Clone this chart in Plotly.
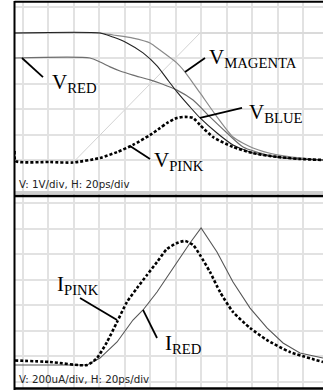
import plotly.graph_objects as go

# ---- time base (ps) ----
# top panel: voltages (V), 1 V/div, 20 ps/div
t_magenta = [-6.3, 60.5, 70.7, 86.4, 99.8, 107.6, 121.0, 127.3, 139.1, 152.4, 165.0, 180.7, 199.6, 217.6, 235.7]
v_magenta = [5.0, 5.0, 4.92, 4.80, 4.61, 4.33, 3.82, 3.47, 2.65, 1.71, 0.92, 0.49, 0.22, 0.10, 0.02]

t_blue = [-6.3, 60.5, 70.7, 81.7, 94.3, 105.3, 113.1, 121.0, 131.2, 139.1, 152.4, 165.0, 180.7, 204.3, 235.7]
v_blue = [5.0, 5.0, 4.84, 4.61, 4.22, 3.71, 3.20, 2.69, 2.10, 1.67, 1.08, 0.61, 0.29, 0.10, 0.02]

t_red = [-6.3, 52.6, 60.5, 68.4, 76.2, 86.4, 99.8, 109.3, 121.0, 133.6, 146.9, 160.3, 172.9, 191.7, 217.6, 235.7]
v_red = [4.02, 4.02, 3.86, 3.67, 3.51, 3.35, 3.16, 3.00, 2.76, 2.37, 1.71, 1.08, 0.53, 0.22, 0.06, 0.02]

t_ramp = [-6.3, 40.9, 139.1, 235.7]
v_ramp = [0.0, 0.0, 5.0, 5.0]

t_pink = [-6.6, -5.8, 21.2, 39.3, 60.5, 73.9, 86.4, 99.8, 107.6, 113.1, 121.0, 127.3, 133.6, 139.1,
          149.3, 165.0, 180.7, 199.6, 217.6, 235.7]
v_pink = [0.37, -0.02, -0.06, -0.08, 0.10, 0.33, 0.61, 1.0, 1.27, 1.47, 1.67, 1.71, 1.67, 1.39,
          0.92, 0.53, 0.29, 0.14, 0.06, 0.02]

# bottom panel: currents (uA), 200 uA/div, 20 ps/div
t_ipink = [-6.3, 21.2, 50.3, 58.1, 66.0, 73.9, 81.7, 89.6, 97.4, 105.3, 113.1, 121.0, 127.3, 133.6,
           139.1, 146.9, 154.8, 165.0, 178.4, 191.7, 209.8, 235.7]
i_ipink = [-35, -47, -71, -16, 110, 267, 424, 533, 635, 737, 839, 886, 902, 871,
           792, 659, 502, 345, 220, 125, 31, -47]

t_ired = [-6.3, 50.3, 60.5, 73.9, 86.4, 94.3, 105.3, 117.9, 131.2, 139.9, 152.4, 165.0, 178.4,
          191.7, 204.3, 217.6, 235.7]
i_ired = [-71, -71, -16, 110, 282, 361, 502, 690, 886, 1004, 816, 580, 376,
          220, 102, 24, -16]

# ---- label layout: (text, x, y, pointer x0, y0, x1, y1) ----
v_labels = [
    ("V<sub>RED</sub>", 21.2, 3.03, -0.8, 4.02, 15.7, 3.27),
    ("V<sub>MAGENTA</sub>", 144.6, 4.01, 127.3, 3.47, 143.0, 4.02),
    ("V<sub>BLUE</sub>", 176.0, 1.85, 139.1, 1.67, 172.1, 2.06),
    ("V<sub>PINK</sub>", 101.4, -0.03, 84.1, 0.57, 99.8, 0.06),
]
i_labels = [
    ("I<sub>PINK</sub>", 25.1, 555, 44.8, 455, 73.9, 282),
    ("I<sub>RED</sub>", 110.0, 96, 94.3, 361, 105.3, 141),
]

W, H = 323, 390
X_LEFT_PX = 14.5
T_RANGE = [-6.68, 235.7]
V_RANGE = [-1.373, 6.235]
I_RANGE = [-254.9, 1254.9]

fig = go.Figure()

top = dict(xaxis="x", yaxis="y")
bot = dict(xaxis="x2", yaxis="y2")

fig.add_trace(go.Scatter(x=t_ramp, y=v_ramp, mode="lines",
                         line=dict(color="#d2d2d2", width=1), **top))
fig.add_trace(go.Scatter(x=t_red, y=v_red, mode="lines", line_shape="spline",
                         line=dict(color="#6e6e6e", width=1.2, smoothing=0.6), **top))
fig.add_trace(go.Scatter(x=t_magenta, y=v_magenta, mode="lines", line_shape="spline",
                         line=dict(color="#8a8a8a", width=1.2, smoothing=0.6), **top))
fig.add_trace(go.Scatter(x=t_blue, y=v_blue, mode="lines", line_shape="spline",
                         line=dict(color="#222222", width=1.1, smoothing=0.6), **top))
fig.add_trace(go.Scatter(x=t_pink, y=v_pink, mode="lines", line_shape="spline",
                         line=dict(color="#000000", width=2.6, dash="3px,2px", smoothing=0.6), **top))

fig.add_trace(go.Scatter(x=t_ired, y=i_ired, mode="lines",
                         line=dict(color="#555555", width=1.1), **bot))
fig.add_trace(go.Scatter(x=t_ipink, y=i_ipink, mode="lines", line_shape="spline",
                         line=dict(color="#000000", width=2.6, dash="3px,2px", smoothing=0.6), **bot))

shapes = []
annotations = []
label_font = dict(family="Liberation Serif, Times New Roman, serif", size=21, color="#000000")
for labels, xr, yr in ((v_labels, "x", "y"), (i_labels, "x2", "y2")):
    for text, lx, ly, x0, y0, x1, y1 in labels:
        annotations.append(dict(text=text, x=lx, y=ly, xref=xr, yref=yr, showarrow=False,
                                xanchor="left", yanchor="middle", font=label_font))
        shapes.append(dict(type="line", xref=xr, yref=yr, x0=x0, y0=y0, x1=x1, y1=y1,
                           line=dict(color="#000000", width=1.8)))

scale_font = dict(family="DejaVu Sans, Verdana, sans-serif", size=10.3, color="#222222")
annotations.append(dict(text="V: 1V/div, H: 20ps/div", xref="paper", yref="paper",
                        x=17 / W, y=1 - 184 / H, xanchor="left", yanchor="middle",
                        showarrow=False, font=scale_font))
annotations.append(dict(text="V: 200uA/div, H: 20ps/div", xref="paper", yref="paper",
                        x=17 / W, y=1 - 379 / H, xanchor="left", yanchor="middle",
                        showarrow=False, font=scale_font))

# frame lines
xl = X_LEFT_PX / W
def hline(py, color, width):
    return dict(type="line", xref="paper", yref="paper", x0=xl, x1=1,
                y0=1 - py / H, y1=1 - py / H, line=dict(color=color, width=width))

shapes += [
    hline(192.5, "#cfcfcf", 3),
    hline(196, "#000000", 2.5),
    hline(1.8, "#000000", 2),
    hline(388.6, "#000000", 2.5),
    dict(type="line", xref="paper", yref="paper", x0=xl, x1=xl, y0=0, y1=1 - 1 / H,
         line=dict(color="#000000", width=2)),
]

grid = dict(showgrid=True, gridcolor="#e2e2e2", gridwidth=1.5, showticklabels=False,
            zeroline=False, ticks="", showline=False, fixedrange=True)

fig.update_layout(
    width=W, height=H,
    margin=dict(l=0, r=0, t=0, b=0),
    paper_bgcolor="#ffffff", plot_bgcolor="#ffffff",
    showlegend=False,
    xaxis=dict(domain=[xl, 1], range=T_RANGE, tick0=0, dtick=20, anchor="y", **grid),
    xaxis2=dict(domain=[xl, 1], range=T_RANGE, tick0=0, dtick=20, anchor="y2", **grid),
    yaxis=dict(domain=[1 - 195.5 / H, 1 - 1.5 / H], range=V_RANGE,
               tickmode="array", tickvals=[0, 1, 2, 3, 4, 5, 6], anchor="x", **grid),
    yaxis2=dict(domain=[1 - 388.5 / H, 1 - 196 / H], range=I_RANGE,
                tick0=0, dtick=200, anchor="x2", **grid),
    shapes=shapes,
    annotations=annotations,
)

fig.write_html("out.html", config={"displayModeBar": False})
